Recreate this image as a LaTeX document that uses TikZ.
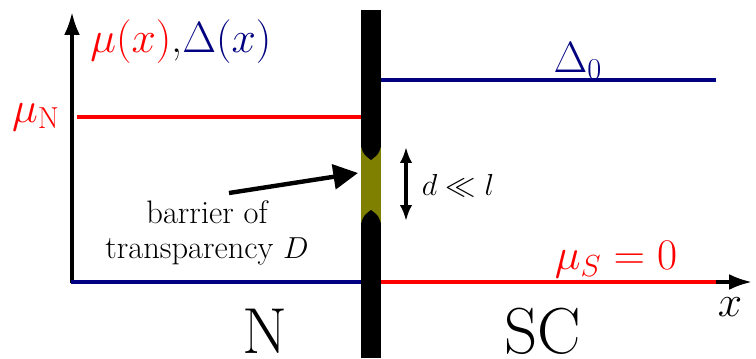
\documentclass[tikz,border=0pt]{standalone}
\usetikzlibrary{arrows.meta}
\definecolor{dblue}{rgb}{0,0,0.5}
\definecolor{olivey}{rgb}{0.5,0.5,0}
\begin{document}
\begin{tikzpicture}[x=0.02cm,y=-0.02cm,
  axis/.style={line width=2pt,-{Latex[length=13pt,width=9pt]}},
  lvl/.style={line width=2pt},
  biglbl/.style={font=\fontsize{25}{29}\selectfont,inner sep=0pt},
  regionlbl/.style={font=\fontsize{37}{41}\selectfont,inner sep=0pt}]
\useasboundingbox (0,0) rectangle (756,358);
% axes
\coordinate (o) at (72,282);
\coordinate (ytip) at (72,12);
\coordinate (xtip) at (752,282);
\draw[axis] (72,283) -- (ytip);
\draw[axis] (o) -- (xtip);
% levels
\coordinate (muNl) at (77,117); \coordinate (muNr) at (361,117);
\draw[lvl,red] (muNl) -- (muNr);
\coordinate (d0l) at (381,80); \coordinate (d0r) at (716,80);
\draw[lvl,dblue] (d0l) -- (d0r);
\coordinate (bl) at (71,282); \coordinate (br) at (361,282);
\draw[lvl,dblue] (bl) -- (br);
\coordinate (rl) at (381,282); \coordinate (rr) at (716,282);
\draw[lvl,red] (rl) -- (rr);
% barrier
\fill[black] (361,10) rectangle (381,358);
\fill[olivey] (361,147) rectangle (381,223);
\fill[black] (361,146) .. controls (363,156) and (369,158) .. (371,160) .. controls (373,158) and (379,156) .. (381,146) -- cycle;
\fill[black] (361,224) .. controls (363,214) and (369,212) .. (371,210) .. controls (373,212) and (379,214) .. (381,224) -- cycle;
% labels
\node[biglbl,anchor=west] (ylab) at (90,42) {$\color{red}\mu(x)$,$\color{dblue}\Delta(x)$};
\node[biglbl,red] (muN) at (36,117) {$\mu_{\mathrm{N}}$};
\node[biglbl,dblue] (D0) at (578,61) {$\Delta_0$};
\node[biglbl,red] (muS) at (616,260) {$\mu_S=0$};
\node[inner sep=0pt,font=\fontsize{31}{35}\selectfont] (xl) at (730,307) {$x$};
\node[regionlbl] (N) at (265,331) {N};
\node[regionlbl] (SC) at (543,331) {SC};
% thickness arrow
\coordinate (dt) at (406,147);
\coordinate (db) at (406,221);
\draw[line width=1.8pt,{Latex[length=9pt,width=7pt]}-{Latex[length=9pt,width=7pt]}] (dt) -- (db);
\node[inner sep=0pt,font=\fontsize{18}{21}\selectfont] (dl) at (458,186) {$d\ll l$};
% barrier label
\node[inner sep=0pt,align=center,font=\fontsize{18.5}{19.5}\selectfont] (bar) at (207,233) {barrier of\\transparency $D$};
\coordinate (bstart) at (229,193);
\coordinate (bend) at (358,173);
\draw[line width=2.5pt,-{Triangle[length=14pt,width=14pt]}] (bstart) -- (bend);
\end{tikzpicture}
\end{document}
